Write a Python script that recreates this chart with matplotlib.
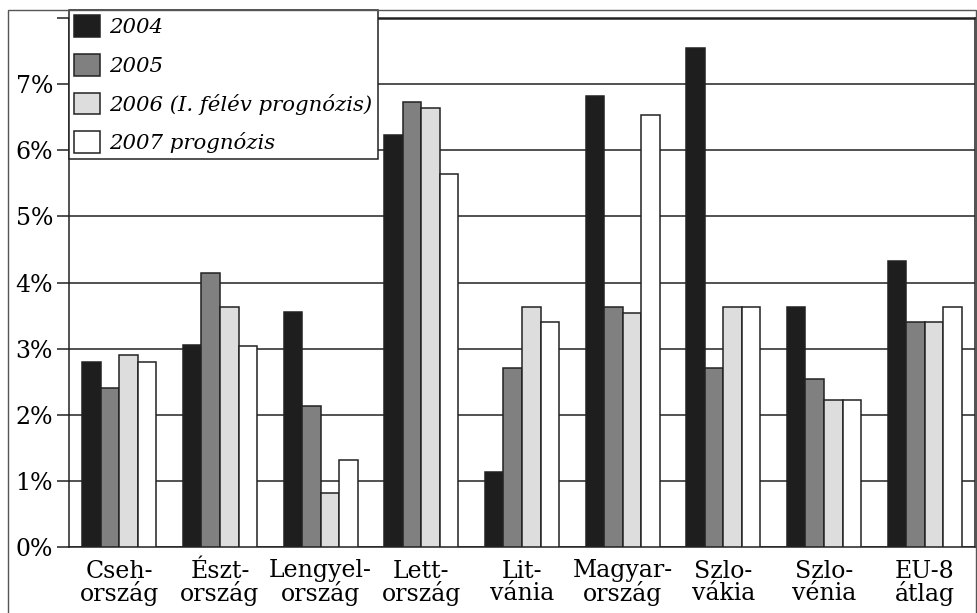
import numpy as np
import matplotlib
matplotlib.use('Agg')
import matplotlib.pyplot as plt
from matplotlib.patches import Rectangle

# data (percent)
countries = ['Cseh-\nország', 'Észt-\nország', 'Lengyel-\nország', 'Lett-\nország', 'Lit-\nvánia',
             'Magyar-\nország', 'Szlo-\nvákia', 'Szlo-\nvénia', 'EU-8\nátlag']
series_names = ['2004', '2005', '2006 (I. félév prognózis)', '2007 prognózis']
v2004 = [2.8, 3.05, 3.55, 6.23, 1.13, 6.82, 7.55, 3.63, 4.32]
v2005 = [2.4, 4.14, 2.13, 6.73, 2.71, 3.63, 2.71, 2.54, 3.40]
v2006 = [2.9, 3.63, 0.81, 6.64, 3.63, 3.54, 3.63, 2.22, 3.40]
v2007 = [2.8, 3.04, 1.31, 5.64, 3.40, 6.54, 3.63, 2.22, 3.63]
yticks = [0, 1, 2, 3, 4, 5, 6, 7, 8]
ytick_labels = ['0%', '1%', '2%', '3%', '4%', '5%', '6%', '7%', '']

colors = ['#1e1e1e', '#808080', '#dddddd', '#ffffff']
edge = '#222222'

plt.rcParams['font.family'] = ['DejaVu Serif']

W, H = 978, 613
fig = plt.figure(figsize=(W / 100, H / 100), dpi=100)
ax = fig.add_axes([69 / W, 1 - 547 / H, (975 - 69) / W, (547 - 18) / H])

x = np.arange(len(countries))
bw = 0.184
values = [v2004, v2005, v2006, v2007]
for i, vals in enumerate(values):
    ax.bar(x + (i - 1.5) * bw, vals, width=bw, color=colors[i], edgecolor=edge,
           linewidth=1.1, label=series_names[i], zorder=3)

ax.set_xlim(-0.5, len(countries) - 0.5)
ax.set_ylim(0, 8)
ax.set_yticks(yticks)
ax.set_yticklabels(ytick_labels, fontsize=17)
ax.set_xticks(x)
ax.set_xticklabels(countries, fontsize=17, linespacing=0.95)
ax.tick_params(axis='x', length=0, pad=9)
ax.tick_params(axis='y', length=8.5, width=1.1, color=edge, pad=3)
ax.yaxis.grid(True, color=edge, linewidth=1.1)
ax.set_axisbelow(True)
for side in ['left', 'bottom', 'right']:
    ax.spines[side].set_linewidth(1.1)
    ax.spines[side].set_color(edge)
ax.spines['top'].set_linewidth(1.8)
ax.spines['top'].set_color(edge)

# outer frame
fig.patches.append(Rectangle((8 / W, -0.01), (976 - 8) / W, 1.01 - 10 / H, transform=fig.transFigure,
                             fill=False, edgecolor='#555555', linewidth=1.0))

leg = ax.legend(loc='upper left', bbox_to_anchor=(69 / W, 1 - 10 / H), bbox_transform=fig.transFigure,
                borderaxespad=0, fancybox=False, edgecolor=edge, framealpha=1,
                prop={'family': 'DejaVu Serif', 'style': 'italic', 'size': 15.3},
                handlelength=1.2, handleheight=1.2, handletextpad=0.45, labelspacing=0.78,
                borderpad=0.25)
leg.get_frame().set_linewidth(1.1)
leg.set_zorder(10)

fig.savefig('out.png', dpi=100)
